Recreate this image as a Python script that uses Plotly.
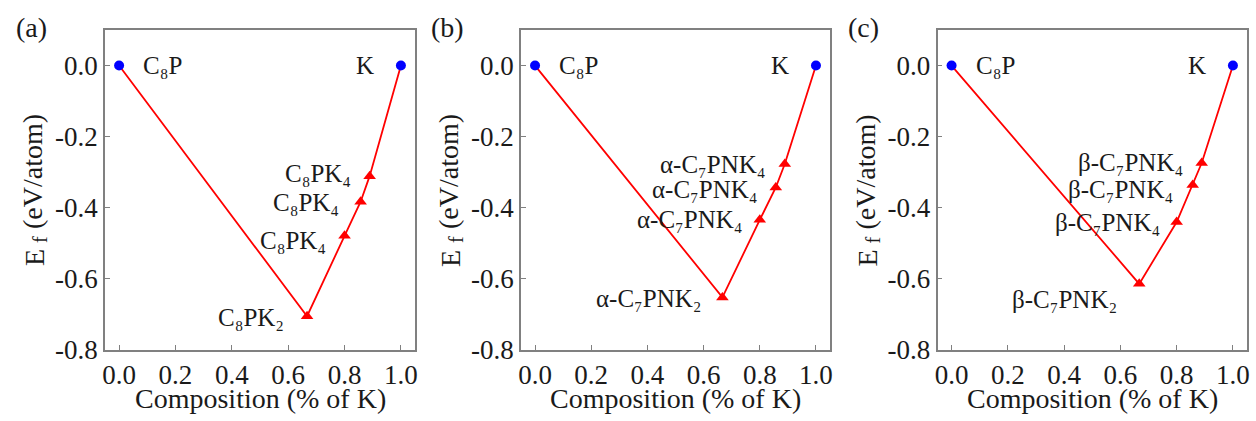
import plotly.graph_objects as go

# ---------------- data ----------------
panel_letters = ["(a)", "(b)", "(c)"]

end_x = [0.0, 1.0]
end_y = [0.0, 0.0]
end_labels = ["C\u2088P", "K"]

comp_x = [0.667, 0.8, 0.857, 0.889]
ef_a = [-0.705, -0.479, -0.383, -0.311]
ef_b = [-0.652, -0.434, -0.343, -0.277]
ef_c = [-0.614, -0.440, -0.336, -0.274]

labels_a = ["C\u2088PK\u2082", "C\u2088PK\u2084", "C\u2088PK\u2084", "C\u2088PK\u2084"]
labels_b = ["\u03b1-C\u2087PNK\u2082", "\u03b1-C\u2087PNK\u2084",
            "\u03b1-C\u2087PNK\u2084", "\u03b1-C\u2087PNK\u2084"]
labels_c = ["\u03b2-C\u2087PNK\u2082", "\u03b2-C\u2087PNK\u2084",
            "\u03b2-C\u2087PNK\u2084", "\u03b2-C\u2087PNK\u2084"]

x_ticks = [0.0, 0.2, 0.4, 0.6, 0.8, 1.0]
x_ticktext = ["0.0", "0.2", "0.4", "0.6", "0.8", "1.0"]
y_ticks = [-0.8, -0.6, -0.4, -0.2, 0.0]
y_ticktext = ["-0.8", "-0.6", "-0.4", "-0.2", "0.0"]

x_title = "Composition (% of K)"
y_title_parts = ["E", "f", "(eV/atom)"]

# ---------------- layout / style ----------------
W, H = 1256, 421
ML, MR, MT, MB = 10, 5, 10, 10
PW, PH = W - ML - MR, H - MT - MB
FONT = "Liberation Serif"
TXT = "#1a1a1a"
GRAY = "#808080"
RED = "#ff0000"
BLUE = "#0000ff"

boxes = [(105, 415), (521, 830), (937.5, 1247)]
top_px, bot_px = 30, 350


def px_x(p):
    return (p - ML) / PW


def px_y(p):
    return 1 - (p - MT) / PH


# label pixel offsets (xshift, yshift) per triangle point
offs = [
    [(-21, -1), (-17, -5), (-20, -1), (-17, 3)],
    [(-18, -1), (-15, 0), (-16, -2), (-17, 0)],
    [(-20, -16), (-15, 0), (-18, -4), (-17, 0)],
]

series = [ef_a, ef_b, ef_c]
labels = [labels_a, labels_b, labels_c]

fig = go.Figure()
lab_font = dict(family=FONT, size=25, color=TXT)
big_font = dict(family=FONT, size=28, color=TXT)

for i in range(3):
    sfx = "" if i == 0 else str(i + 1)
    xa, ya = "x" + sfx, "y" + sfx
    l, r = boxes[i]

    line_x = [end_x[0]] + comp_x + [end_x[1]]
    line_y = [end_y[0]] + series[i] + [end_y[1]]
    fig.add_trace(go.Scatter(x=line_x, y=line_y, mode="lines",
                             line=dict(color=RED, width=1.8),
                             xaxis=xa, yaxis=ya, showlegend=False))
    fig.add_trace(go.Scatter(x=comp_x, y=series[i], mode="markers",
                             marker=dict(symbol="triangle-up", size=11, color=RED),
                             xaxis=xa, yaxis=ya, showlegend=False))
    fig.add_trace(go.Scatter(x=end_x, y=end_y, mode="markers",
                             marker=dict(symbol="circle", size=10, color=BLUE),
                             xaxis=xa, yaxis=ya, showlegend=False))

    fig.update_layout({
        "xaxis" + sfx: dict(domain=[px_x(l), px_x(r)], range=[-0.05, 1.05], anchor=ya,
                            tickvals=x_ticks, ticktext=x_ticktext),
        "yaxis" + sfx: dict(domain=[px_y(bot_px), px_y(top_px)], range=[-0.8, 0.1], anchor=xa,
                            tickvals=y_ticks, ticktext=y_ticktext),
    })

    # endpoint labels
    fig.add_annotation(x=end_x[0], y=end_y[0], xref=xa, yref=ya, text=end_labels[0],
                       showarrow=False, xanchor="left", yanchor="middle", xshift=22,
                       font=lab_font)
    fig.add_annotation(x=end_x[1], y=end_y[1], xref=xa, yref=ya, text=end_labels[1],
                       showarrow=False, xanchor="right", yanchor="middle", xshift=-25,
                       font=lab_font)
    # compound labels
    for j in range(4):
        dx, dy = offs[i][j]
        fig.add_annotation(x=comp_x[j], y=series[i][j], xref=xa, yref=ya,
                           text=labels[i][j], showarrow=False, xanchor="right",
                           yanchor="middle", xshift=dx, yshift=dy, font=lab_font)
    # x title
    fig.add_annotation(x=px_x((l + r) / 2), y=px_y(398), xref="paper", yref="paper",
                       text=x_title, showarrow=False, xanchor="center", yanchor="middle",
                       font=big_font)
    # y title, built from pieces (E, subscript f, units)
    fig.add_annotation(x=px_x(l - 71), y=px_y(258), xref="paper", yref="paper",
                       text=y_title_parts[0], textangle=-90, showarrow=False,
                       xanchor="center", yanchor="middle", font=big_font)
    fig.add_annotation(x=px_x(l - 65), y=px_y(240), xref="paper", yref="paper",
                       text=y_title_parts[1], textangle=-90, showarrow=False,
                       xanchor="center", yanchor="middle",
                       font=dict(family=FONT, size=20, color=TXT))
    fig.add_annotation(x=px_x(l - 72), y=px_y(172), xref="paper", yref="paper",
                       text=y_title_parts[2], textangle=-90, showarrow=False,
                       xanchor="center", yanchor="middle", font=big_font)
    # panel letter
    fig.add_annotation(x=px_x(l - 74), y=px_y(27), xref="paper", yref="paper",
                       text=panel_letters[i], showarrow=False, xanchor="center",
                       yanchor="middle", font=big_font)

fig.update_xaxes(showgrid=False, zeroline=False, showline=True, linecolor=GRAY,
                 linewidth=1.5, mirror=True, ticks="inside", ticklen=5, tickwidth=1,
                 tickcolor=GRAY, automargin=False,
                 tickfont=dict(family=FONT, size=27, color=TXT))
fig.update_yaxes(showgrid=False, zeroline=False, showline=True, linecolor=GRAY,
                 linewidth=1.5, mirror=True, ticks="inside", ticklen=5, tickwidth=1,
                 tickcolor=GRAY, automargin=False,
                 tickfont=dict(family=FONT, size=27, color=TXT))

fig.update_layout(template="none", width=W, height=H,
                  margin=dict(l=ML, r=MR, t=MT, b=MB),
                  font=dict(family=FONT, size=25, color=TXT), showlegend=False)

fig.write_html("out.html")
